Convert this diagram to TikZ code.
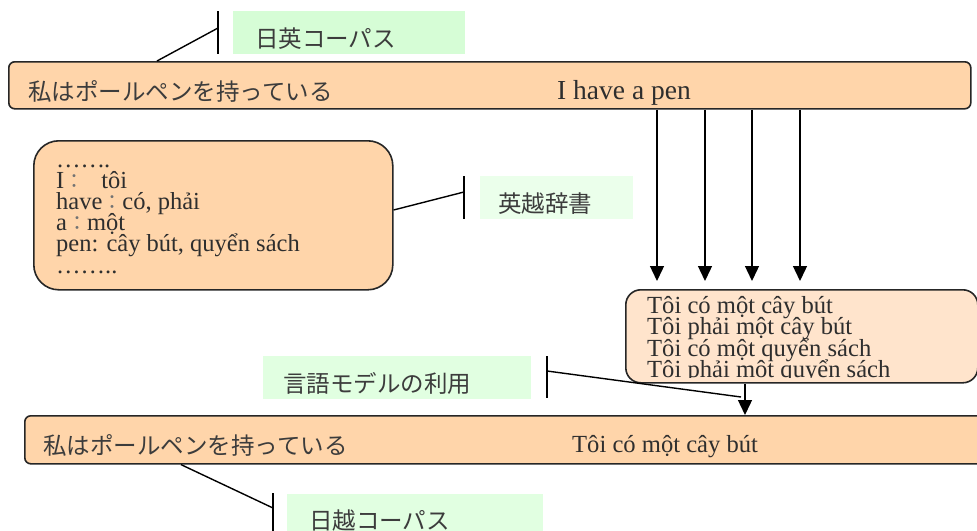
\documentclass[tikz,border=0pt]{standalone}
\usepackage{fontspec}
\setmainfont{Liberation Serif}
\newfontfamily\jp{Noto Sans CJK JP}
\usetikzlibrary{arrows.meta,calc}
\definecolor{orangefill}{HTML}{FFD5AA}
\definecolor{candfill}{HTML}{FFE4CC}
\definecolor{greenA}{HTML}{D6FDD6}
\definecolor{greenB}{HTML}{EBFFEB}
\definecolor{greenC}{HTML}{E1FFE1}
\definecolor{textgray}{HTML}{2E2E2E}
\definecolor{jpgray}{HTML}{3C3C3C}
\newcommand{\jcolon}{{\jp\fontsize{20}{24}\selectfont\color{black!55}：}}
\begin{document}
\begin{tikzpicture}[x=1pt,y=-1pt,
  box/.style={draw=black!85, line width=1.6pt, fill=orangefill, rounded corners=6pt, inner sep=0pt, anchor=north west},
  gbox/.style={inner sep=0pt, anchor=north west},
  jtext/.style={font=\jp\fontsize{23.5}{28}\selectfont, text=jpgray, inner sep=0pt, anchor=west},
  etext/.style={inner sep=0pt, anchor=base west, text=textgray},
  link/.style={line width=1.4pt},
  arr/.style={line width=1.4pt, -{Triangle[length=15pt,width=14pt]}}]
\useasboundingbox[fill=white] (0,0) rectangle (977,530);

% green label boxes
\node[gbox, fill=greenA, minimum width=232pt, minimum height=43pt] (g1) at (233,11) {};
\node[jtext] (g1t) at (255,39) {日英コーパス};
\node[gbox, fill=greenB, minimum width=153pt, minimum height=43pt] (g2) at (480,176) {};
\node[jtext] (g2t) at (498,204) {英越辞書};
\node[gbox, fill=greenC, minimum width=268pt, minimum height=43pt] (g3) at (263,356) {};
\node[jtext] (g3t) at (283,383) {言語モデルの利用};
\node[gbox, fill=greenC, minimum width=256pt, minimum height=45pt] (g4) at (287,494) {};
\node[jtext] (g4t) at (309,521) {日越コーパス};

% top sentence box
\node[box, minimum width=962pt, minimum height=47pt] (top) at (8,61) {};
\node[jtext] (topjp) at (28,91) {私はポールペンを持っている};
\node[etext, font=\fontsize{27.5}{30}\selectfont] (topen) at (557,99) {I have a pen};

% dictionary box
\node[box, rounded corners=25pt, minimum width=359pt, minimum height=149pt] (dict) at (33,140) {};
\begin{scope}[every node/.style={etext, font=\fontsize{24.5}{26}\selectfont}]
\node (d1) at (56,167) {……\kern-1pt.};
\node (d2) at (56,188.2) {I\jcolon\hspace{17pt}tôi};
\node (d3) at (56,209.4) {have\jcolon có, phải};
\node (d4) at (56,230.6) {a\jcolon một};
\node (d5) at (56,251.8) {pen: cây bút, quyển sách};
\node (d6) at (56,273) {……..};
\end{scope}

% candidate box
\node[box, fill=candfill, rounded corners=15pt, minimum width=352pt, minimum height=93pt] (cand) at (625,289) {};
\begin{scope}
\clip (625,280) rectangle (977,377.5);
\begin{scope}[every node/.style={etext, font=\fontsize{24.6}{26}\selectfont}]
\node (c1) at (647,313.5) {Tôi có một cây bút};
\node (c2) at (647,334.8) {Tôi phải một cây bút};
\node (c3) at (647,356.1) {Tôi có một quyển sách};
\node (c4) at (647,377.4) {Tôi phải một quyển sách};
\end{scope}
\end{scope}

% bottom sentence box
\node[box, minimum width=970pt, minimum height=48pt] (bot) at (24,415) {};
\node[jtext] (botjp) at (43,445) {私はポールペンを持っている};
\node[etext, font=\fontsize{24.6}{26}\selectfont] (botvi) at (572,452.5) {Tôi có một cây bút};

% callout ticks and lines
\coordinate (t1a) at (218,11); \coordinate (t1b) at (218,54); \coordinate (t1m) at (218,28);
\draw[link] (t1a) -- (t1b);
\draw[link] ($(top.north west)+(149,0)$) -- (t1m);

\coordinate (t2a) at (464,176); \coordinate (t2b) at (464,219); \coordinate (t2m) at (464,192);
\draw[link] (t2a) -- (t2b);
\draw[link] ($(dict.north east)+(0,70)$) -- (t2m);

\coordinate (t3a) at (547,356); \coordinate (t3b) at (547,398); \coordinate (t3m) at (547,371);
\coordinate (p3) at (741,397);
\draw[link] (t3a) -- (t3b);
\draw[link] (t3m) -- (p3);

\coordinate (t4a) at (273,493); \coordinate (t4b) at (273,535); \coordinate (t4m) at (273,508);
\draw[link] (t4a) -- (t4b);
\draw[link] ($(bot.south west)+(157,0)$) -- (t4m);

% arrows
\coordinate (a1) at (657,281); \coordinate (a2) at (705,281);
\coordinate (a3) at (752,281); \coordinate (a4) at (800,281);
\foreach \a in {a1,a2,a3,a4} \draw[arr] (top.south -| \a) -- (\a);
\coordinate (ax) at (745,0);
\draw[arr] (cand.south -| ax) -- (bot.north -| ax);
\end{tikzpicture}
\end{document}
